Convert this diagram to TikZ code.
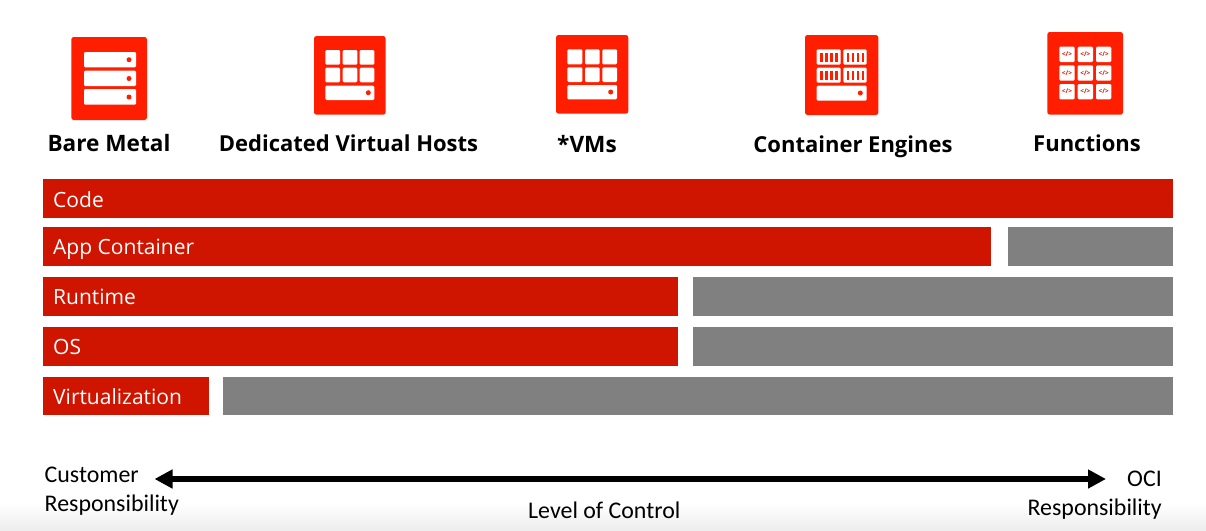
\documentclass[tikz,border=0pt]{standalone}
\usepackage{fontspec}
\setmainfont{Open Sans}
\newfontfamily\calib{Carlito}
\usetikzlibrary{arrows.meta}
\definecolor{barred}{HTML}{CF1500}
\definecolor{iconred}{HTML}{FF1E00}
\definecolor{bargray}{HTML}{808080}
\tikzset{
  x=1pt,y=-1pt,
  iconbox/.style={fill=iconred,rounded corners=2.5pt,draw=none},
  cellbox/.style={fill=white,rounded corners=1.2pt,draw=none},
  leddot/.style={fill=iconred,draw=none},
  stripebar/.style={fill=iconred,draw=none},
  headtext/.style={font=\fontsize{22}{26}\selectfont\bfseries,text=black,anchor=base,inner sep=0pt},
  headbig/.style={headtext,font=\fontsize{22.6}{26}\selectfont\bfseries},
  barlabel/.style={font=\fontsize{21}{24}\selectfont,text=white,anchor=base west,inner sep=0pt},
  redbar/.style={fill=barred,draw=none},
  graybar/.style={fill=bargray,draw=none},
  captext/.style={font=\calib\fontsize{23.9}{27}\selectfont,text=black,anchor=base west,inner sep=0pt},
  codetext/.style={font=\fontsize{6.5}{7}\selectfont\bfseries,text=barred,inner sep=0pt},
}
\newcommand{\bx}[3]{\fill[#1] #2 rectangle #3;}
\begin{document}
\begin{tikzpicture}
\useasboundingbox (0,0) rectangle (1206,530);
\fill[white] (0,0) rectangle (1206,530);
\shade[top color=white,bottom color=black!7,draw=none] (0,503) rectangle (1206,530);

% Bare Metal icon
\bx{iconbox}{(71.3,37)}{(147,120)}
\bx{cellbox}{(84,52)}{(136,67.3)}
\bx{cellbox}{(84,70.7)}{(136,86)}
\bx{cellbox}{(84,89)}{(136,104.7)}
\fill[leddot] (129,59.7) circle (2.5);
\fill[leddot] (129,78.5) circle (2.5);
\fill[leddot] (129,97) circle (2.5);

% Dedicated Virtual Hosts icon
\bx{iconbox}{(314,36)}{(385.7,114.7)}
\foreach \xa/\xb in {325.3/340,342.7/357.3,359.7/374.3}
  \foreach \ya/\yb in {50/64.7,67.7/82.3}
    {\bx{cellbox}{(\xa,\ya)}{(\xb,\yb)}}
\bx{cellbox}{(325.3,85.7)}{(374.3,100)}
\fill[leddot] (368.3,92.7) circle (2.5);

% VMs icon
\bx{iconbox}{(556,35)}{(628.3,113.7)}
\foreach \xa/\xb in {567.3/582.3,585/599.7,602.3/617}
  \foreach \ya/\yb in {49.3/64.3,67.3/82}
    {\bx{cellbox}{(\xa,\ya)}{(\xb,\yb)}}
\bx{cellbox}{(567.3,85)}{(617,99.3)}
\fill[leddot] (610.7,92) circle (2.5);

% Container Engines icon
\bx{iconbox}{(805,35)}{(878.3,115)}
\foreach \xa/\xb/\xs in {816.7/840.7/820,843.3/866.7/846.5}
  \foreach \ya/\yb in {49.3/64.7,67.7/82.7}
    {\bx{cellbox}{(\xa,\ya)}{(\xb,\yb)}
     \foreach \k in {0,1,2,3}
       {\fill[stripebar] (\xs+\k*5,\ya+3.2) rectangle (\xs+\k*5+2.9,\yb-3.2);}}
\bx{cellbox}{(816.7,85.7)}{(866.7,100.7)}
\fill[leddot] (860.3,93) circle (2.5);

% Functions icon
\bx{iconbox}{(1047.3,32)}{(1123,114.7)}
\foreach \xa/\xb in {1059.3/1074.7,1077.7/1093,1096/1111.3}
  \foreach \ya/\yb in {46.7/62,65.3/80.7,84/99.3}
    {\bx{cellbox}{(\xa,\ya)}{(\xb,\yb)}
     \node[codetext] at ({(\xa+\xb)/2},{(\ya+\yb)/2}) {</>};}

% Headings
\node[headbig] (h1) at (109,151.5) {Bare Metal};
\node[headtext] (h2) at (348.5,151) {Dedicated Virtual Hosts};
\node[headbig] (h3) at (587,152.5) {*VMs};
\node[headtext] (h4) at (853,152) {Container Engines};
\node[headtext] (h5) at (1087,151) {Functions};

% Bars
\bx{redbar}{(43,179)}{(1173,218)}
\bx{redbar}{(43,227)}{(991,266)}
\bx{graybar}{(1008,227)}{(1173,266)}
\bx{redbar}{(43,277)}{(678,316)}
\bx{graybar}{(693,277)}{(1173,316)}
\bx{redbar}{(43,327)}{(678,366)}
\bx{graybar}{(693,327)}{(1173,366)}
\bx{redbar}{(43,377)}{(209,415)}
\bx{graybar}{(223,377)}{(1173,415)}

\node[barlabel] (l1) at (53,207) {Code};
\node[barlabel] (l2) at (53,254.5) {App Container};
\node[barlabel] (l3) at (53,304.5) {Runtime};
\node[barlabel] (l4) at (53,354.5) {OS};
\node[barlabel] (l5) at (53,404) {Virtualization};

% Axis
\coordinate (axl) at (154.5,479);
\coordinate (axr) at (1106,479);
\draw[line width=5.5pt,{Triangle[length=18pt,width=18pt]}-{Triangle[length=18pt,width=18pt]}] (axl) -- (axr);

\node[captext] (c1) at (44.5,482) {Customer};
\node[captext] (c2) at (44.5,511) {Responsibility};
\node[captext] (c3) at (528,518) {Level of Control};
\node[captext,anchor=base east] (c4) at (1162,486) {OCI};
\node[captext,anchor=base east] (c5) at (1162,515.5) {Responsibility};
\end{tikzpicture}
\end{document}
